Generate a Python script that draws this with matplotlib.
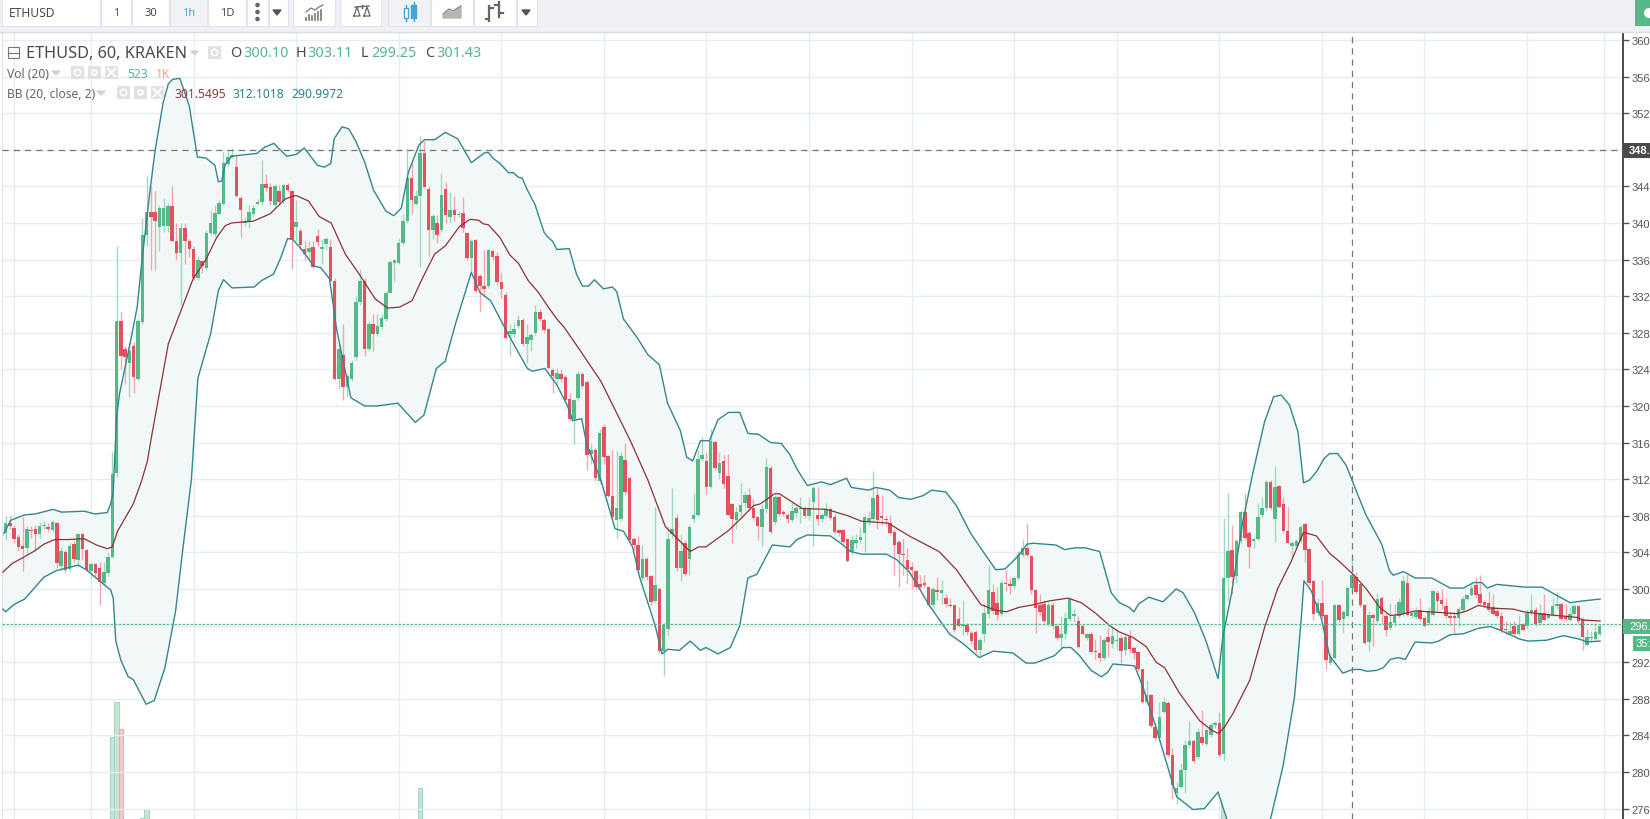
import matplotlib
matplotlib.use("Agg")
import matplotlib.pyplot as plt
from matplotlib.patches import Rectangle, Circle
import numpy as np

# --- candles, one per hour starting at hour -20 ---
opens = [
    306.1,307.2,306.7,305.7,304.7,304.5,306.4,306.5,306.0,306.9,
    306.8,306.4,307.2,302.5,304.0,302.2,304.9,303.2,306.0,304.3,
    302.0,302.7,302.3,300.6,301.7,303.5,312.7,329.3,326.2,324.7,
    326.6,323.0,329.2,338.7,341.2,341.2,339.6,339.7,339.7,341.8,
    338.0,336.7,339.5,338.0,337.2,334.0,335.8,335.1,338.9,338.8,
    341.0,342.1,346.4,347.2,346.1,342.7,340.0,340.2,341.0,342.1,
    342.3,344.3,343.9,342.0,343.5,342.4,344.2,343.5,339.6,339.1,
    337.2,336.8,337.4,338.6,337.1,337.7,337.4,333.7,322.9,325.6,
    322.1,322.9,325.3,331.4,333.7,326.2,329.0,327.9,328.6,329.5,
    332.4,335.6,335.6,337.8,340.2,344.9,342.1,342.9,347.6,343.7,
    339.2,340.0,339.2,343.7,340.6,341.4,340.9,341.1,338.9,336.2,
    338.1,334.2,333.1,333.1,336.9,336.4,333.6,332.1,327.9,327.9,
    328.7,329.4,326.8,327.2,328.0,330.3,329.4,328.4,323.9,322.9,
    323.5,323.2,320.8,318.6,320.9,323.5,322.6,314.8,315.2,311.8,
    317.7,314.5,310.2,307.5,307.6,314.1,312.1,305.5,304.8,301.2,
    303.3,301.4,298.7,300.0,293.2,295.6,306.0,307.8,302.3,305.0,
    303.3,307.7,308.1,314.2,314.0,311.1,316.1,312.7,314.0,312.3,
    309.3,307.5,308.4,309.4,310.3,308.8,307.9,306.8,308.7,313.2,
    307.3,310.0,308.4,308.1,307.5,308.3,308.7,308.8,308.0,309.5,
    308.1,307.6,308.0,308.7,307.9,306.4,306.4,305.5,304.1,305.0,
    305.3,306.1,307.4,307.7,310.3,307.9,307.6,307.2,306.2,305.1,
    303.8,303.2,302.4,302.0,300.5,300.6,300.2,298.3,299.9,299.6,
    299.0,298.3,298.2,296.7,296.0,296.1,295.2,295.3,293.3,295.1,
    297.3,299.7,298.5,297.3,300.7,300.5,300.3,301.2,303.7,304.5,
    303.6,299.9,298.2,298.4,296.2,298.3,295.9,294.6,295.1,296.7,
    297.1,296.5,295.9,294.6,295.1,293.2,293.0,292.5,294.8,294.0,
    294.3,294.6,293.3,294.8,293.6,293.1,291.2,287.6,288.4,284.9,
    283.7,286.6,287.5,281.9,277.7,278.4,280.2,282.9,283.4,281.6,
    283.8,283.1,284.0,285.1,285.3,282.0,301.2,304.3,301.4,305.2,
    308.4,306.1,305.2,305.5,308.1,308.8,311.7,307.6,311.2,309.3,
    306.3,304.7,304.7,305.2,307.1,304.4,300.9,297.4,298.5,297.2,
    291.9,292.5,298.2,296.7,297.1,300.1,301.3,300.5,298.3,294.2,
    297.2,296.5,299.0,297.1,295.7,296.3,297.0,297.3,300.7,297.0,
    296.9,297.7,296.8,296.3,297.2,299.6,298.8,298.1,297.0,297.0,
    296.8,297.7,298.9,299.3,300.4,299.4,298.6,298.5,298.0,297.6,
    297.1,295.6,295.1,295.9,295.1,296.2,295.9,297.4,297.7,296.3,
    297.4,296.8,297.2,298.1,298.4,296.9,296.6,297.3,298.1,296.6,
    293.9,294.6,294.5,295.1,
]
closes = [
    307.2,306.9,305.5,304.6,304.4,306.5,306.3,306.0,306.9,307.0,
    306.5,307.3,302.8,304.2,302.1,304.7,303.3,306.0,304.4,302.1,
    302.7,301.7,300.8,301.8,303.5,312.6,329.3,325.5,325.3,326.0,
    323.2,329.3,338.7,341.2,340.6,340.2,341.6,341.6,341.8,338.0,
    336.7,339.5,338.0,337.1,334.0,336.0,335.3,338.9,340.0,341.1,
    342.2,346.6,347.2,347.4,343.0,341.4,340.2,341.2,341.6,342.3,
    344.3,343.8,342.4,344.0,342.3,344.1,343.6,338.2,340.1,337.6,
    336.6,337.3,335.2,337.9,337.4,338.2,333.7,322.9,326.2,322.1,
    323.3,324.7,331.4,333.7,326.2,329.0,327.9,328.7,329.6,332.4,
    335.7,335.9,337.8,340.2,344.9,342.5,342.9,347.6,343.9,339.2,
    340.8,338.7,343.1,340.9,341.4,340.9,341.0,339.4,336.2,338.0,
    332.6,333.1,332.8,337.0,336.3,333.5,332.8,327.4,328.2,328.4,
    329.4,326.8,327.5,327.8,330.3,329.5,328.3,324.2,323.3,323.6,
    323.0,320.6,318.6,320.6,323.5,322.2,314.6,315.2,312.1,317.0,
    314.4,310.2,307.9,308.9,314.5,310.6,305.4,304.8,302.1,303.3,
    301.3,298.6,300.4,293.2,296.1,305.5,306.6,302.3,304.2,301.6,
    306.8,308.1,314.2,314.6,311.1,316.2,313.2,313.8,311.5,308.1,
    307.6,308.4,309.2,310.3,308.8,307.8,306.9,308.7,313.3,306.2,
    310.1,308.2,308.2,307.7,308.5,308.8,308.8,308.0,308.8,311.0,
    307.6,308.1,308.7,307.8,306.2,306.1,305.1,303.1,305.4,305.3,
    305.7,307.9,307.8,309.9,307.5,307.8,307.5,306.1,304.8,303.8,
    303.7,302.2,302.1,300.2,300.2,300.4,298.2,300.0,299.7,299.9,
    298.4,298.1,295.5,296.0,296.1,295.3,294.3,293.3,294.4,297.4,
    299.9,297.6,297.2,300.7,300.5,300.3,301.2,303.7,304.5,303.7,
    299.9,297.9,297.5,296.5,298.3,295.9,294.6,295.1,296.8,298.9,
    297.2,293.7,295.1,295.1,293.1,293.1,292.5,294.4,294.2,294.9,
    294.4,293.2,294.8,293.4,293.0,291.2,287.6,288.4,285.0,283.7,
    286.0,287.7,281.9,278.6,278.3,280.2,282.9,283.4,281.2,284.4,
    283.2,284.6,285.1,285.4,281.8,301.2,304.1,301.3,305.2,308.4,
    305.6,304.6,305.5,307.9,308.8,311.7,308.8,311.1,309.0,306.3,
    305.0,305.0,305.2,306.8,304.3,300.6,297.3,298.5,297.1,292.2,
    292.6,298.2,296.6,297.5,300.1,301.5,299.7,298.2,294.1,297.2,
    296.8,298.9,297.3,295.5,296.4,297.0,298.6,300.9,297.2,297.4,
    297.5,296.7,295.9,297.6,299.8,298.7,298.4,297.0,296.8,296.8,
    297.8,298.9,299.3,300.1,299.3,298.5,298.3,297.7,297.3,297.0,
    295.5,295.5,295.4,295.1,296.1,295.5,297.4,297.7,296.2,297.4,
    296.6,297.2,298.1,298.4,296.7,296.7,297.3,298.1,296.5,294.7,
    294.8,294.8,295.3,295.9,
]
highs = [
    308.0,308.0,307.0,306.0,307.9,306.9,306.9,307.0,307.3,307.4,
    307.2,307.5,307.3,304.6,304.3,305.0,305.2,306.1,306.1,304.4,
    303.0,302.8,303.0,303.0,304.0,315.0,337.5,330.3,326.6,327.0,
    327.0,329.5,340.5,345.1,344.0,343.5,342.0,342.7,342.2,344.0,
    340.0,340.0,340.0,338.2,337.5,336.4,336.0,339.2,341.4,342.0,
    342.5,347.8,348.0,348.2,347.4,343.0,340.6,342.0,342.0,342.6,
    346.9,345.3,344.4,344.3,344.2,344.3,344.4,343.6,342.5,339.5,
    338.0,338.0,338.0,339.3,338.2,338.5,338.3,334.0,327.0,329.0,
    323.5,325.0,332.0,335.0,334.0,329.3,330.0,330.0,330.0,332.6,
    336.0,336.0,338.4,341.0,348.2,346.6,343.6,349.5,349.0,344.0,
    341.0,340.9,345.5,344.5,343.4,343.0,341.3,342.8,339.0,338.2,
    338.2,334.4,337.0,337.2,337.2,336.8,334.5,332.5,329.0,329.2,
    329.9,329.6,329.0,328.0,331.0,330.6,329.6,328.5,324.2,324.2,
    324.0,323.4,321.4,320.8,323.8,323.7,322.8,316.0,315.4,317.5,
    318.0,314.6,315.2,315.1,315.0,316.0,312.3,305.7,305.8,304.8,
    303.5,301.5,309.0,300.2,296.3,306.9,311.0,308.2,306.0,305.4,
    307.0,310.5,315.2,316.6,315.0,317.5,316.2,315.0,314.6,314.7,
    309.4,309.0,311.6,310.6,311.0,309.8,308.0,309.3,314.3,313.5,
    310.3,310.2,308.6,308.3,309.5,309.2,310.0,309.0,310.0,311.3,
    311.1,308.3,309.4,309.0,308.2,306.6,306.5,305.6,305.9,306.0,
    306.8,308.1,308.5,312.9,311.0,310.3,308.0,308.1,306.5,305.3,
    305.5,304.5,303.0,302.1,301.5,301.5,300.3,300.2,301.3,301.0,
    299.4,299.0,298.3,298.0,298.8,296.3,295.4,295.5,294.6,298.5,
    302.6,300.5,300.2,301.0,302.1,301.2,301.4,304.2,305.5,307.1,
    303.7,300.0,299.5,298.8,298.6,298.6,296.2,297.0,297.5,299.0,
    297.8,297.0,296.2,295.2,295.3,294.5,295.0,294.6,295.8,295.8,
    295.5,295.0,295.0,295.5,293.8,293.2,291.3,290.0,288.5,285.3,
    287.6,288.2,287.8,282.6,278.9,281.0,283.5,285.6,283.6,284.8,
    286.8,284.8,285.3,285.6,286.5,307.8,310.5,307.0,305.5,308.6,
    310.5,306.3,305.6,309.4,310.0,311.9,311.9,313.4,311.4,310.0,
    309.0,305.2,305.5,307.0,307.2,304.5,301.0,299.0,301.0,297.3,
    293.0,298.4,298.4,297.7,300.3,303.5,301.8,300.7,298.4,297.6,
    297.4,299.6,299.2,297.4,298.5,298.4,299.0,301.5,301.5,297.6,
    298.0,299.0,297.0,298.0,300.0,299.9,300.0,299.0,297.5,297.5,
    298.0,299.2,299.5,300.5,301.3,301.5,298.8,299.8,299.5,298.0,
    297.5,296.5,296.4,296.5,297.2,296.3,297.8,299.5,298.0,298.4,
    299.5,297.6,299.0,299.7,298.5,298.4,298.0,298.4,298.2,296.9,
    295.6,295.4,296.3,296.2,
]
lows = [
    305.3,306.5,305.0,304.2,302.0,303.8,305.6,304.2,305.6,306.5,
    306.2,306.2,302.3,302.0,301.9,302.0,303.0,302.6,303.2,302.0,
    301.2,301.3,298.3,300.3,301.4,303.4,312.2,324.0,322.5,321.0,
    321.4,322.8,329.0,337.5,334.9,334.9,336.9,339.0,339.0,337.9,
    336.0,331.0,335.5,336.3,333.8,333.8,334.5,335.0,338.7,338.5,
    340.9,342.0,346.2,347.1,342.8,338.5,339.7,339.5,340.7,342.0,
    342.0,343.5,342.0,341.5,342.0,342.2,343.4,335.0,338.0,337.0,
    336.0,336.0,335.0,337.5,335.5,337.0,333.5,322.8,322.0,320.6,
    321.0,322.7,325.0,331.0,325.5,326.0,326.0,327.7,328.4,329.3,
    332.3,333.6,335.5,337.6,340.0,341.0,342.0,335.2,343.8,336.4,
    338.2,337.8,339.0,340.0,340.0,340.2,340.6,339.0,336.0,334.6,
    332.4,330.4,332.0,332.9,336.0,333.2,331.8,327.3,325.5,327.5,
    328.5,326.6,324.7,326.0,327.8,329.3,328.0,324.0,321.4,322.4,
    322.6,320.4,318.4,315.8,320.7,322.0,313.0,313.7,311.8,311.5,
    313.7,310.0,307.5,305.6,307.4,310.4,305.0,304.3,301.6,301.0,
    301.0,298.3,298.5,293.0,290.5,294.9,305.6,302.0,300.9,301.4,
    301.5,307.3,308.0,314.0,310.4,311.0,313.0,312.0,311.0,308.0,
    305.0,306.5,308.0,309.0,308.5,307.5,305.3,304.7,308.3,306.0,
    307.0,308.0,308.0,307.2,307.3,307.8,307.2,307.8,307.5,304.7,
    307.0,307.3,307.8,307.5,306.0,305.8,304.9,302.9,303.7,304.5,
    305.0,304.0,307.0,307.4,306.5,307.0,307.0,306.0,301.5,300.2,
    301.5,300.5,300.0,300.0,300.0,300.2,298.0,298.0,298.8,298.4,
    298.0,298.0,295.3,295.8,295.0,295.0,294.0,293.0,292.6,294.2,
    296.8,297.3,296.6,297.0,299.8,299.5,300.0,301.0,303.5,303.5,
    299.4,295.2,297.2,296.3,296.0,295.6,294.4,293.6,294.5,296.5,
    296.4,293.5,295.0,294.4,293.0,292.3,292.0,292.2,292.6,293.5,
    293.3,291.9,292.8,293.0,292.4,291.0,287.5,287.4,284.8,283.5,
    283.4,286.4,281.6,277.0,276.5,278.2,277.7,282.7,281.0,281.4,
    283.0,282.9,283.8,284.8,281.6,281.2,298.7,299.5,300.7,305.0,
    305.4,302.3,304.5,305.3,307.8,308.6,308.6,305.1,308.8,306.1,
    304.9,303.5,304.5,305.0,303.0,300.4,296.6,297.0,296.7,291.2,
    291.7,292.3,296.4,295.2,296.9,299.9,299.5,298.0,294.0,293.2,
    293.8,296.3,296.2,294.9,295.5,296.0,296.8,297.0,297.0,296.8,
    296.7,296.5,295.8,296.1,297.0,297.6,297.8,296.8,296.0,295.2,
    295.8,297.4,298.8,299.2,299.0,298.3,298.0,297.5,297.2,296.8,
    295.2,295.0,295.0,295.0,295.0,295.4,295.6,297.2,296.0,296.1,
    296.5,296.7,297.0,297.8,296.6,296.5,296.5,297.2,296.3,293.3,
    293.8,294.2,294.4,294.9,
]

# --- bollinger bands as (hour, price) vertices ---
upper_hours = [-20.4,-18.8,-15.5,-13,-8.9,-6.9,-1.6,0.9,3.8,4.6,5.2,6,6.7,9.3,10.8,12,13.8,15,16.9,18.1,19.1,20.8,23,23.6,24.9,26.9,29,29.8,30.6,31.4,32.9,38.8,40.7,42.8,43.8,45.8,48.1,49.9,53,54.6,56.1,56.9,58.7,60.3,62,64,66.1,69,70.8,72.6,74.3,76.7,78,80.4,82.9,85.8,89,92.2,93,94,95.7,97.7,98.8,100,100.9,102,103.9,106,106.8,108,109,111.9,113.6,115,116.4,117.8,119.9,122,123,124.6,127.9,130.3,133,134.9,137.9,139.4,140.8,142.6,144.7,146.7,149.2,151.8,153.7,156.2,159,161.5,163.5,165.2,167.6,170.9,173,176.8,177.9,182,183.6,186.9,188.9,191.8,194.7,196.7,200,202.5,205.8,209,211.7,213.9,216.5,218.1,219,220.4,225.8,227.8,230.2,232.5,236,238.7,240.6,242.9,244,245.2,247.5,250.8,253.9,255.5,258.2,260.9,263.7,264.8,266.8,269.5,271.9,274.6,276.7,278.5,280.4,282.4,283.7,285.1,286.7,288.6,289.8,291.7,293.7,296.4,298.3,302,303.8,304.7,307.1,309.8,313.7,318,321.1,323.5,325.4,326.7,328.9,335.6,339.5,344.5,346.1,349.2,353.1]
upper_values = [306.07,307.5,308.1,308.2,308.7,308.4,308.5,308.2,308.35,309.3,310.6,318.9,321.4,327.2,330.8,336.2,343.5,347.9,353.2,355.2,355.7,355.8,352.8,351,347.2,347.1,346.3,344.5,344.6,346.4,347.3,347.6,348.3,348.7,348.2,347.3,347.5,348.2,346.3,346.1,346.5,349.2,350.5,350.3,348.9,346.7,343.6,341.3,340.8,341.6,345.6,348.5,349.1,349.1,349.9,349.2,346.6,347.7,347.7,347.1,346.5,345.5,345.5,345,344.9,343.7,342,339,338.5,338,337.1,337.2,334.4,333.1,333.1,333.8,332.8,333,332.5,329.5,327.4,325.6,324.5,320.3,317.3,314.4,314,316.2,316.2,318.5,319.3,319.3,317,316.9,316,315.9,314.7,313.1,311.3,311.7,311.4,312.1,311.1,310.8,311.1,310.8,310,309.8,310.2,310.8,310.6,309.1,306.1,303.9,302.1,302.2,303.4,304.3,304.9,305,304.8,304.3,304.5,304.5,304.1,299.6,298.5,298,297.5,298.4,299.1,298.6,300,299.6,297.4,294.3,290.2,294.7,299.4,307.4,312.8,318.3,321,321.2,320.1,317.2,311.6,311.9,312.8,314.3,314.8,314.8,313.5,310.3,308.1,304.9,302,301.5,301.9,301.2,301.2,300.1,300.1,300.7,300.7,300.1,300.5,300.2,300.2,298.9,298.5,298.7,298.9]
middle_hours = [-20.6,-18.4,-16.4,-13.4,-11,-8.5,-5.2,-1.6,1.3,3.8,5,6.2,9.9,11.9,13.2,14.3,18.1,23.9,27,29.4,31.4,32.9,38,41.9,45.4,47,48,50.9,53.4,56.2,59.5,63.2,66.5,69.4,72.2,75.1,77.6,80.4,82.9,86.2,88.7,90.7,91.8,93,95.7,98,100,102.3,104.7,107,109,110.7,114.4,119.3,122.6,126.2,130.3,134.4,140.2,142.2,143.9,149.2,152.5,155,156.6,159.9,161.1,166.4,172.1,177.1,180.3,186.5,191.8,198.4,202.5,208.2,211.5,214.1,217.2,220.8,224.3,228.6,231.7,235.2,238.3,240.6,243.8,246.9,249.2,251.2,254.7,259.4,262.1,263.8,265.2,267.2,271.1,274.6,277.7,280.8,283.7,286.7,289.8,292.1,295.3,298.4,301.5,304,306.3,309.8,313.3,319.6,321.9,324.6,327.8,332.8,335.2,340.6,347.6,349.2,353.1]
middle_values = [301.85,302.8,303.3,304.1,304.9,305.4,305.4,305.5,304.8,304.4,304.6,306.3,309.3,311.9,314,317,326.8,333.9,336.1,338.4,339.7,340,340.2,341,342.6,342.9,343,342.4,340.7,340,336.6,334.1,331.7,330.7,330.8,331.5,334,336.6,337.5,339.6,340.4,340.3,339.9,339.8,338.4,336.5,335.6,333.7,332.4,330.8,329.5,328.6,326.1,322.7,319.6,316.2,311.9,306.8,304.1,304.6,304.6,306.4,307.9,309.1,309.3,310.4,310.4,308.8,308.7,308,307.4,307.2,305.7,304.1,302.1,298.3,297.7,297.5,298,298.3,298.7,299,298.5,297.3,296,295.3,294.7,293.7,292,291.4,288.6,285.6,284.6,284.2,284.9,286.4,290,295.8,300.1,303,306.2,305.8,303.9,303,301.6,300,298,297.1,297.2,297.6,297.5,297.3,297.6,298.2,297.9,297.8,297.5,297.2,296.9,296.6,296.5]
lower_hours = [-20.6,-20,-18,-15.5,-11,-8.1,-4.8,-3,-1.1,3,4.6,5.2,5.8,7,8.7,9.9,12.9,14.8,17.3,19.8,21.4,23.5,25,28,29.8,31,33,38.2,39.9,42.7,44.4,46,47.2,49.3,52.1,53.8,55.8,57.5,60.8,64,66.9,71.8,75.9,77.9,80.8,82.9,85.3,89,91,93.5,97.1,99.2,102.1,103.3,106.2,109,111.5,112.7,114.8,116,119.3,122.6,124.6,126.7,128.3,130.3,132,133.6,134.9,137.7,140.2,142.6,143.9,146.7,149.6,151.8,153.7,155.8,159.4,163.5,165.2,167.6,173,175.4,177.7,180.3,186.1,188.5,191.4,193.5,196,200.8,204.1,207.8,211.1,215.7,218.8,220.8,225.4,227.4,229.3,231.3,234,236.4,237.9,239.1,244.2,246.1,248.9,254,257.8,260.5,263.7,265.6,268,270,272.5,274.5,276.1,278.9,281.6,283.2,283.8,285.5,287.8,289.8,292.9,295.2,297,298.5,300.8,302.4,304,305.9,307.5,309.8,313.7,315.3,318,321.1,324.6,327.4,329.7,334.4,336.3,340.6,344.5,348.4,349.9,353.1]
lower_values = [297.8,297.5,298.3,298.9,301.3,302,302.4,302.6,302.1,300.5,299.9,299,294.3,292.2,290.4,290.1,287.4,287.8,291.4,297.6,304,312,323,327.9,332.6,333.8,332.9,333,333.7,334.4,336.2,338.3,338.2,337.1,335.3,335.1,333.9,328.3,320.9,320,320,320.3,318.2,319,324.1,324.9,329,334.6,332.4,331.5,328.3,326.5,324.1,323.8,324.1,322.3,320,318.4,318.6,315.8,311.9,306.6,306.3,304.6,301.4,298.5,296,292.9,293.4,293.3,294.3,293.3,293.6,292.9,293.6,296,301.2,301.6,304.8,304.6,305.4,305.9,305.8,305,304.1,303.8,303.8,303.2,301.9,300.3,298.3,295.1,294,292.5,293.2,293,291.9,291.9,292.7,293.6,293.6,292.7,291.1,290.4,290.9,291.8,291.6,289.3,285.3,277.3,275.9,276,277.8,275.1,271.5,270,270.5,272.5,275.1,280.6,288.2,296.9,300.9,299.8,296.9,292.7,290.8,291.2,291.2,291,291.1,291.4,292.3,292.5,292.3,294.2,294.1,294.3,295,295.1,295.7,295.9,295.5,294.5,294.3,294.4,294.9,294.5,294.2,294.3]

# --- volume bars that show above the bottom edge ---
volume_hours = [5, 6, 7, 12, 13, 77, 265, 266]
volume_values = [82, 117, 90, 1, 10, 31, 17, 7]
volume_up = [True, True, False, True, True, True, True, True]

price_ticks = list(range(276, 364, 4))
grid_hours = [-18] + list(range(0, 337, 24)) + [354]
crosshair_price = 348.0
crosshair_hour = 295
last_price = 296.2

GREEN = "#53b987"
RED = "#e4505e"
WICK_GREEN = "#a3d9bf"
WICK_RED = "#f4a6ad"
BAND = "#35868c"
MIDDLE = "#8b3236"
FILL = "#f2f8f8"
GRID = "#e4edf1"

plt.rcParams["font.family"] = ["Noto Sans", "DejaVu Sans"]

W, H = 1650, 820
fig = plt.figure(figsize=(W / 100, H / 100), dpi=100, facecolor="white")

# price pane: x 2..1623, y 33..820 in pixels
ax = fig.add_axes([2 / W, 0, (1623 - 2) / W, (820 - 33) / H])

# volume sits on its own scale in the same pane
ax_vol = ax.twinx()
ax_vol.set_ylim(0, 787)
ax_vol.set_yticks([])
ax_vol.patch.set_visible(False)
for spine in ax_vol.spines.values():
    spine.set_visible(False)
ax_vol.bar(volume_hours, volume_values, width=1.0,
           color=["#c6e6d6" if u else "#f7c8cc" for u in volume_up],
           edgecolor=["#a3d6bd" if u else "#f0a9af" for u in volume_up], linewidth=0.8)
ax_vol.set_zorder(0)
ax.set_zorder(1)
ax.patch.set_visible(False)

ax.set_xlim(-20.82, 358.45)
ax.set_ylim(274.86, 360.87)
ax.set_xticks(grid_hours)
ax.set_xticklabels([])
ax.yaxis.tick_right()
ax.set_yticks(price_ticks)
ax.set_yticklabels([f"{p}." for p in price_ticks], family="Liberation Sans", fontsize=8.0, color="#555555")
ax.tick_params(axis="x", length=0)
ax.tick_params(axis="y", length=4, width=1, color="#555555", pad=2)
ax.grid(True, color=GRID, linewidth=1.0, zorder=0)
ax.set_axisbelow(True)
for side in ["top", "bottom"]:
    ax.spines[side].set_visible(False)
ax.spines["left"].set_color("#dfe3e8")
ax.spines["right"].set_color("#4a4a4a")
ax.spines["right"].set_linewidth(1.4)

hours = np.arange(-20, -20 + len(opens))
o = np.array(opens)
c = np.array(closes)
up = c >= o

# band fill and candles
ax.fill(np.r_[upper_hours, lower_hours[::-1]], np.r_[upper_values, lower_values[::-1]],
        color=FILL, linewidth=0, zorder=1)
ax.vlines(hours[up], np.array(lows)[up], np.array(highs)[up], color=WICK_GREEN, linewidth=1.0, zorder=2)
ax.vlines(hours[~up], np.array(lows)[~up], np.array(highs)[~up], color=WICK_RED, linewidth=1.0, zorder=2)
body = np.abs(c - o)
ax.bar(hours, np.maximum(body, 0.12), bottom=np.minimum(o, c), width=0.82,
       color=[GREEN if u else RED for u in up], linewidth=0, zorder=3)

ax.plot(upper_hours, upper_values, color=BAND, linewidth=1.0, zorder=4)
ax.plot(lower_hours, lower_values, color=BAND, linewidth=1.0, zorder=4)
ax.plot(middle_hours, middle_values, color=MIDDLE, linewidth=0.9, zorder=4)

# crosshair and last price line
ax.axhline(crosshair_price, color="#777777", linewidth=0.9, dashes=(5, 4), zorder=5)
ax.axvline(crosshair_hour, color="#777777", linewidth=0.9, dashes=(5, 4), zorder=5)
ax.axhline(last_price, color=GREEN, linewidth=0.9, dashes=(2, 1.2), zorder=5)

# everything below is interface chrome, drawn in pixel coordinates
ui = fig.add_axes([0, 0, 1, 1], zorder=5)
ui.set_xlim(0, W)
ui.set_ylim(H, 0)
ui.axis("off")

ui.add_patch(Rectangle((0, 0), W, 33, color="#eff1f6", linewidth=0))
ui.plot([0, W], [33, 33], color="#dadde3", linewidth=1)
for x0, x1, bg in [(2, 100, "white"), (101, 131, "white"), (132, 169, "white"), (170, 207, "#f0f2f5"),
                   (208, 246, "white"), (247, 268, "white"), (269, 288, "white"), (293, 335, "white"),
                   (340, 381, "white"), (388, 430, "#f0f2f5"), (431, 473, "white"), (474, 516, "white"),
                   (517, 537, "white")]:
    ui.add_patch(Rectangle((x0, 0), x1 - x0, 27, facecolor=bg, edgecolor="#e1e4e9", linewidth=0.8))
ui.add_patch(Rectangle((1635, 0), 15, 27, color=GREEN, linewidth=0))
ui.add_patch(Circle((1649, 14), 5, facecolor="white", edgecolor="none"))

ui.text(9, 13.5, "ETHUSD", fontsize=8.7, color="#4a4a4a", va="center")
ui.text(116, 13, "1", fontsize=8, color="#4a4a4a", va="center", ha="center")
ui.text(151, 13, "30", fontsize=8, color="#4a4a4a", va="center", ha="center")
ui.text(189, 13, "1h", fontsize=8, color="#45a5d8", va="center", ha="center")
ui.text(227, 13, "1D", fontsize=8, color="#4a4a4a", va="center", ha="center")
for y in [6, 13, 20]:
    ui.add_patch(Circle((257.5, y), 1.6, color="#666666"))
for x in [277, 526]:
    ui.fill([x - 4, x + 4, x], [11, 11, 16], color="#555555")

# indicators, compare, candles, area, bars icons
for x, top in zip([306, 309, 312, 315, 318, 321], [19, 16, 17, 15, 13, 11]):
    ui.plot([x, x], [top, 21], color="#777777", linewidth=1.2)
ui.plot([306, 311, 315, 319, 323], [13, 9, 11, 8, 6], color="#777777", linewidth=0.9)
ui.plot([362, 362], [6, 9], color="#666666", linewidth=1)
ui.plot([355, 369], [8, 7], color="#666666", linewidth=1)
ui.plot([354, 357, 360, 354], [17, 8, 17, 17], color="#666666", linewidth=0.9)
ui.plot([364, 367, 370, 364], [17, 8, 17, 17], color="#666666", linewidth=0.9)
ui.plot([406, 406], [6, 22], color="#45a5d8", linewidth=1)
ui.add_patch(Rectangle((404, 9), 4, 10, facecolor="white", edgecolor="#45a5d8", linewidth=1, zorder=3))
ui.add_patch(Rectangle((411, 6), 5, 13, facecolor="#45a5d8", edgecolor="#45a5d8", linewidth=1))
ui.plot([413.5, 413.5], [3, 22], color="#45a5d8", linewidth=1)
ui.fill([443, 449, 453, 461, 461, 443], [17, 12, 14, 8, 19, 19], color="#b5b5b5")
ui.plot([443, 449, 453, 461], [15, 10, 12, 7], color="#888888", linewidth=1)
ui.plot([489, 489], [7, 22], color="#666666", linewidth=1.6)
ui.plot([499, 499], [3, 18], color="#666666", linewidth=1.6)
ui.plot([486, 489], [20, 20], color="#666666", linewidth=1.6)
ui.plot([489, 493], [9, 9], color="#666666", linewidth=1.6)
ui.plot([499, 503], [14, 14], color="#666666", linewidth=1.6)
ui.plot([495, 499], [6, 6], color="#666666", linewidth=1.6)

# pane legend
ui.add_patch(Rectangle((8, 48), 11, 11, facecolor="white", edgecolor="#777777", linewidth=0.8))
ui.plot([8, 19], [53.5, 53.5], color="#777777", linewidth=0.8)
ui.text(26, 53.5, "ETHUSD, 60, KRAKEN", fontsize=11.7, color="#4a4a4a", va="center")
ui.fill([191, 198, 194.5], [52, 52, 56], color="#cfd2d6")
for x, label, valx, val in [(230, "O", 243, "300.10"), (296, "H", 307, "303.11"),
                            (361, "L", 371, "299.25"), (425, "C", 436, "301.43")]:
    ui.text(x, 53.5, label, fontsize=10.4, color="#4a4a4a", va="center")
    ui.text(valx, 53.5, val, fontsize=10.4, color=GREEN, va="center")

ui.text(7, 74, "Vol (20)", fontsize=8.7, color="#666666", va="center")
ui.text(127, 74, "523", fontsize=8.7, color=GREEN, va="center")
ui.text(156, 74, "1K", fontsize=8.7, color="#f5a56c", va="center")
ui.fill([52, 60, 56], [72, 72, 76], color="#cfd2d6")
ui.text(7, 94, "BB (20, close, 2)", fontsize=8.7, color="#666666", va="center")
ui.fill([97, 105, 101], [92, 92, 96], color="#cfd2d6")
ui.text(174, 94, "301.5495", fontsize=8.7, color="#8e3a3f", va="center")
ui.text(232, 94, "312.1018", fontsize=8.7, color="#2f7f88", va="center")
ui.text(291, 94, "290.9972", fontsize=8.7, color="#2f7f88", va="center")


def icon_box(x, y, kind):
    ui.add_patch(Rectangle((x, y), 13, 13, facecolor="#dfe1e5", edgecolor="none"))
    if kind == "eye":
        ui.add_patch(Circle((x + 6.5, y + 6.5), 3.2, facecolor="none", edgecolor="white", linewidth=1.2))
    elif kind == "gear":
        ui.add_patch(Circle((x + 6.5, y + 6.5), 3.4, facecolor="white", edgecolor="none"))
        ui.add_patch(Circle((x + 6.5, y + 6.5), 1.4, facecolor="#dfe1e5", edgecolor="none"))
    else:
        ui.plot([x + 2.5, x + 10.5], [y + 2.5, y + 10.5], color="white", linewidth=1.3)
        ui.plot([x + 10.5, x + 2.5], [y + 2.5, y + 10.5], color="white", linewidth=1.3)


icon_box(208, 47, "eye")
for x, kind in [(71, "eye"), (88, "gear"), (105, "x")]:
    icon_box(x, 67, kind)
for x, kind in [(117, "eye"), (134, "gear"), (151, "x")]:
    icon_box(x, 87, kind)

# right axis price tags
ui.add_patch(Rectangle((1623, 144), 27, 15, color="#4a4a4a", linewidth=0))
ui.text(1629, 151.5, "348.", fontsize=8.0, fontweight="bold", family="Liberation Sans", color="white", va="center")
ui.add_patch(Rectangle((1623, 620), 27, 15, color=GREEN, linewidth=0))
ui.text(1629, 627.5, "296.", fontsize=8.0, family="Liberation Sans", color="white", va="center")
ui.add_patch(Rectangle((1633, 637), 17, 15, color=GREEN, linewidth=0))
ui.text(1636, 644.5, "35:", fontsize=8.0, family="Liberation Sans", color="white", va="center")

fig.savefig("out.png", dpi=100)
